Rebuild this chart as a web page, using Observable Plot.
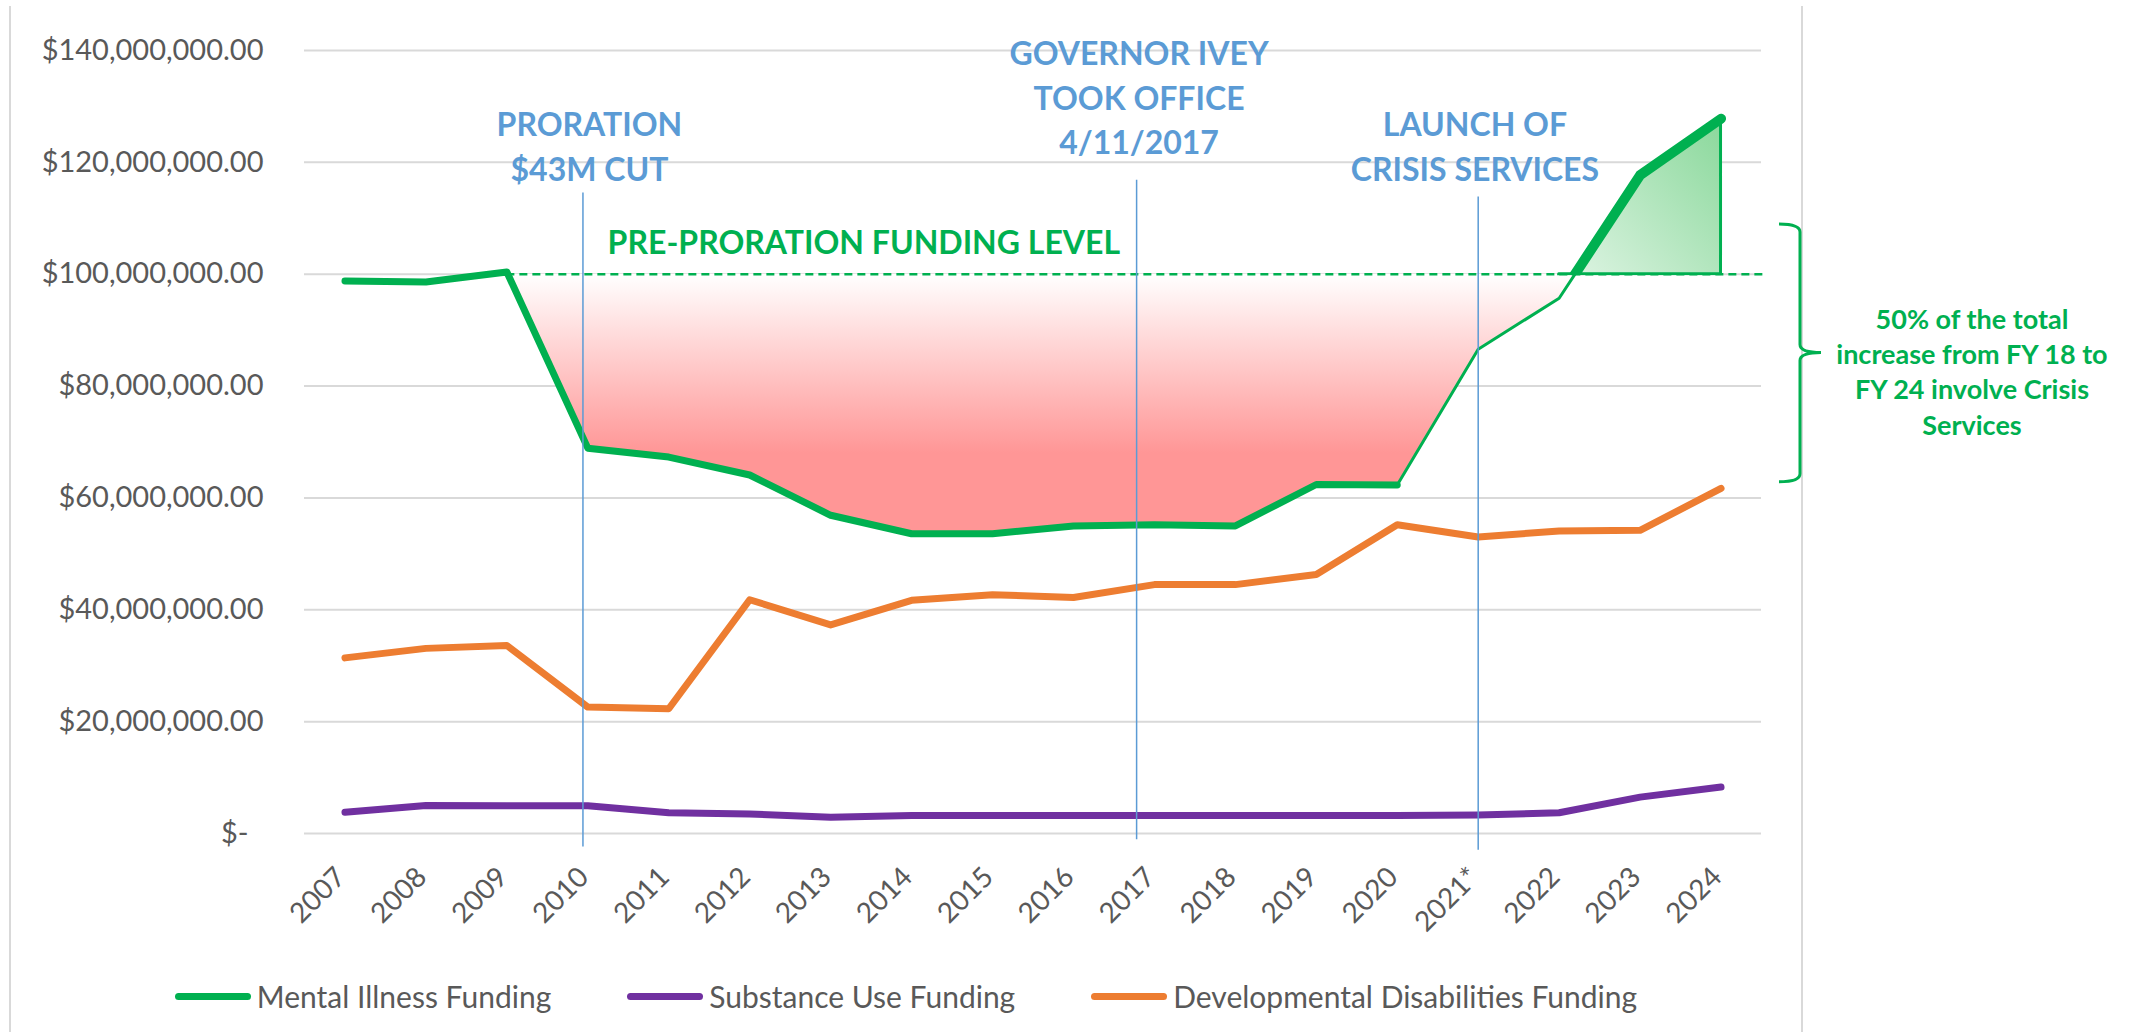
<!DOCTYPE html>
<html>
<head>
<meta charset="utf-8">
<script src="https://cdn.jsdelivr.net/npm/d3@7"></script>
<script src="https://cdn.jsdelivr.net/npm/@observablehq/plot@0.6"></script>
<style>
html, body { margin: 0; padding: 0; background: #fff; overflow: hidden; }
#wrap { position: relative; width: 2138px; height: 1032px; font-family: Lato, sans-serif; }
#frame { position: absolute; left: 9px; top: 6px; width: 1794px; height: 1026px; border-left: 2px solid #d9d9d9; border-right: 2px solid #d9d9d9; box-sizing: border-box; }
#chart { position: absolute; left: 0; top: 0; }
#legend { position: absolute; left: 10px; top: 960px; width: 1792px; height: 72px; display: flex; justify-content: center; align-items: center; gap: 76px; }
.item { display: flex; align-items: center; font-size: 30px; color: #595959; white-space: nowrap; }
.sw { width: 76px; height: 7px; border-radius: 4px; margin-right: 6px; }
</style>
</head>
<body>
<div id="wrap"><div id="frame"></div><div id="chart"></div><div id="legend"></div></div>
<script>
// ---------- data ----------
const years = ["2007","2008","2009","2010","2011","2012","2013","2014","2015","2016","2017","2018","2019","2020","2021*","2022","2023","2024"];
const mentalIllness = [98800000, 98600000, 100400000, 68900000, 67300000, 64100000, 56900000, 53600000, 53600000, 55000000, 55200000, 55000000, 62400000, 62300000, 86600000, 95700000, 117700000, 127800000];
const substanceUse = [3800000, 5000000, 4950000, 4950000, 3700000, 3500000, 2900000, 3200000, 3200000, 3200000, 3200000, 3200000, 3200000, 3200000, 3300000, 3700000, 6500000, 8300000];
const devDisabilities = [31400000, 33100000, 33600000, 22600000, 22300000, 41800000, 37300000, 41700000, 42700000, 42200000, 44500000, 44500000, 46300000, 55200000, 53000000, 54100000, 54200000, 61700000];
const yTicks = [0, 20000000, 40000000, 60000000, 80000000, 100000000, 120000000, 140000000];
const seriesNames = ["Mental Illness Funding", "Substance Use Funding", "Developmental Disabilities Funding"];
const seriesColors = ["#00b050", "#7030a0", "#ed7d31"];
const preProrationLevel = 100000000;
const levelLabel = "PRE-PRORATION FUNDING LEVEL";

// event markers (x in category-index units, y in dollars)
const markers = [
  {x: 2.94, y1: 114500000, y2: -2400000, lx: 3.02, ly: 123200000, label: "PRORATION\n$43M CUT"},
  {x: 9.78, y1: 116800000, y2: -1100000, lx: 9.81, ly: 132000000, label: "GOVERNOR IVEY\nTOOK OFFICE\n4/11/2017"},
  {x: 14.0, y1: 113800000, y2: -3000000, lx: 13.96, ly: 123300000, label: "LAUNCH OF\nCRISIS SERVICES"}
];
const levelNote = {x: 6.41, y: 105500000, text: levelLabel};
const braceNote = {x: 20.1, y: 82800000, text: "50% of the total\nincrease from FY 18 to\nFY 24 involve Crisis\nServices", top: 108900000, mid: 85900000, bottom: 62800000};

const rows = years.map((year, i) => ({i, year, mi: mentalIllness[i], su: substanceUse[i], dd: devDisabilities[i]}));
const i2009 = years.indexOf("2009");
const i2020 = years.indexOf("2020");
const i2022 = years.indexOf("2022");

const fmt = v => v === 0 ? "$-\u00a0\u00a0" : "$" + d3.format(",.2f")(v);

// wrap a mark's rendered group in a clip path (above / below the pre-proration level)
function clipTo(id) {
  return (index, scales, values, dims, context, next) => {
    const g = next(index, scales, values, dims, context);
    g.setAttribute("clip-path", `url(#${id})`);
    return g;
  };
}

function braceMark(b) {
  return (index, scales, values, dims) => {
    const x0 = dims.width - dims.marginRight + 39;
    const yT = scales.y(b.top), yB = scales.y(b.bottom), yM = scales.y(b.mid);
    const a = 21, r = 8;
    const p = `M${x0 - a},${yT} Q${x0},${yT} ${x0},${yT + r} V${yM - r} Q${x0},${yM} ${x0 + a},${yM} ` +
              `M${x0 + a},${yM} Q${x0},${yM} ${x0},${yM + r} V${yB - r} Q${x0},${yB} ${x0 - a},${yB}`;
    return d3.create("svg:path").attr("d", p).attr("fill", "none")
      .attr("stroke", "#00b050").attr("stroke-width", 3).node();
  };
}

const lineOpts = {x: "i", strokeWidth: 7, strokeLinecap: "round", strokeLinejoin: "round"};

const plot = Plot.plot({
  width: 2138, height: 960,
  marginLeft: 304, marginRight: 377, marginTop: 50, marginBottom: 127,
  style: {background: "transparent", fontFamily: "Lato, sans-serif", overflow: "visible"},
  x: {type: "linear", domain: [-0.5, years.length - 0.5], axis: null},
  y: {domain: [0, 140000000]},
  marks: [
    Plot.gridY(yTicks, {stroke: "#d9d9d9", strokeOpacity: 1, strokeWidth: 2}),
    Plot.axisY(yTicks, {tickSize: 0, tickPadding: 41, tickFormat: fmt, fontSize: 29, fill: "#595959", label: null}),
    // shortfall area below pre-proration level
    Plot.areaY(rows.filter(d => d.i >= i2009), {x: "i", y1: "mi", y2: preProrationLevel, fill: "url(#redGrad)", render: clipTo("belowLevel")}),
    // surplus area above pre-proration level
    Plot.areaY(rows.filter(d => d.i >= i2022), {x: "i", y1: "mi", y2: preProrationLevel, fill: "url(#greenGrad)", stroke: "#00b050", strokeWidth: 3, render: clipTo("aboveLevelEdge")}),
    Plot.line(rows, {...lineOpts, y: "su", stroke: seriesColors[1]}),
    Plot.line(rows, {...lineOpts, y: "dd", stroke: seriesColors[2]}),
    Plot.line(rows.filter(d => d.i <= i2020), {...lineOpts, y: "mi", stroke: seriesColors[0]}),
    Plot.line(rows.filter(d => d.i >= i2020 && d.i <= i2022 + 1), {x: "i", y: "mi", stroke: seriesColors[0], strokeWidth: 3, strokeLinejoin: "round", render: clipTo("belowLevel")}),
    Plot.line(rows.filter(d => d.i >= i2022), {x: "i", y: "mi", stroke: seriesColors[0], strokeWidth: 10, strokeLinecap: "round", strokeLinejoin: "round", render: clipTo("aboveLevel")}),
    Plot.ruleY([preProrationLevel], {x1: i2009, x2: years.length - 0.45, stroke: "#00b050", strokeWidth: 2.5, strokeDasharray: "8,5"}),
    Plot.ruleX(markers, {x: "x", y1: "y1", y2: "y2", stroke: "#5b9bd5", strokeWidth: 1.5}),
    Plot.text(markers, {x: "lx", y: "ly", text: "label", fill: "#5b9bd5", fontSize: 32, fontWeight: "bold", lineHeight: 1.4, lineAnchor: "middle"}),
    Plot.text([levelNote], {x: "x", y: "y", text: "text", fill: "#00b050", fontSize: 32, fontWeight: "bold", lineAnchor: "middle"}),
    Plot.text([braceNote], {x: "x", y: "y", text: "text", fill: "#00b050", fontSize: 27, fontWeight: "bold", lineHeight: 1.31, lineAnchor: "middle"}),
    braceMark(braceNote),
    Plot.text(rows, {x: "i", text: "year", frameAnchor: "bottom", rotate: -45, textAnchor: "end", lineAnchor: "middle", dx: -4, dy: 39, fontSize: 28, fill: "#595959"})
  ]
});

// gradients & clip paths derived from the y scale
const ys = plot.scale("y");
const ly = ys.apply(preProrationLevel);
const svg = d3.select(plot);
const defs = svg.insert("defs", ":first-child");
const rg = defs.append("linearGradient").attr("id", "redGrad").attr("gradientUnits", "userSpaceOnUse")
  .attr("x1", 0).attr("x2", 0).attr("y1", ly).attr("y2", ys.apply(68000000));
rg.append("stop").attr("offset", 0).attr("stop-color", "#ffffff");
rg.append("stop").attr("offset", 1).attr("stop-color", "#ff9696");
const gg = defs.append("linearGradient").attr("id", "greenGrad")
  .attr("x1", 0).attr("y1", 1).attr("x2", 1).attr("y2", 0);
gg.append("stop").attr("offset", 0).attr("stop-color", "#e6f7ea");
gg.append("stop").attr("offset", 1).attr("stop-color", "#8ad89b");
defs.append("clipPath").attr("id", "belowLevel").append("rect").attr("x", 0).attr("y", ly).attr("width", 2138).attr("height", 1000);
defs.append("clipPath").attr("id", "aboveLevel").append("rect").attr("x", 0).attr("y", 0).attr("width", 2138).attr("height", ly);
defs.append("clipPath").attr("id", "aboveLevelEdge").append("rect").attr("x", 0).attr("y", 0).attr("width", 2138).attr("height", ly + 1.6);

document.getElementById("chart").appendChild(plot);

// legend
const legend = d3.select("#legend");
seriesNames.forEach((name, k) => {
  const it = legend.append("div").attr("class", "item");
  it.append("div").attr("class", "sw").style("background", seriesColors[k]);
  it.append("span").text(name);
});
</script>
</body>
</html>
